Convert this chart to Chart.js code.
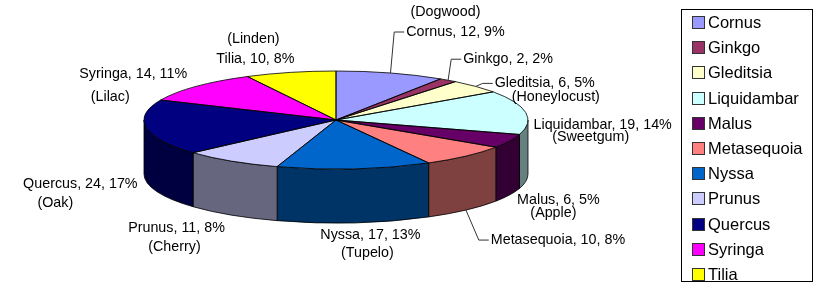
<!DOCTYPE html>
<html>
<head>
<meta charset="utf-8">
<title>Trees by genus</title>
<script src="https://cdn.jsdelivr.net/npm/chart.js@4.4.1/dist/chart.umd.min.js"></script>
<style>
  html, body { margin: 0; padding: 0; background: #fff; }
  #wrap { position: relative; width: 818px; height: 296px; font-family: "Liberation Sans", Arial, sans-serif; }
  #pieChart { position: absolute; left: 0; top: 0; }
  #legend { position: absolute; left: 681px; top: 9px; width: 130px; height: 271px; border: 1px solid #000; }
  .legend-item { display: flex; align-items: center; height: 25.2px; font-size: 16.5px; color: #000; }
  .legend-box { width: 11px; height: 11px; border: 1px solid #333; margin: 0 3px 0 10px; }
</style>
</head>
<body>
<div id="wrap">
  <canvas id="pieChart" width="818" height="296"></canvas>
  <div id="legend"></div>
</div>
<script>
const genera = ["Cornus", "Ginkgo", "Gleditsia", "Liquidambar", "Malus", "Metasequoia", "Nyssa", "Prunus", "Quercus", "Syringa", "Tilia"];
const counts = [12, 2, 6, 19, 6, 10, 17, 11, 24, 14, 10];
const percents = [9, 2, 5, 14, 5, 8, 13, 8, 17, 11, 8];
const commonNames = ["Dogwood", "", "Honeylocust", "Sweetgum", "Apple", "", "Tupelo", "Cherry", "Oak", "Lilac", "Linden"];

const colors = ["#9999FF", "#993366", "#FFFFCC", "#CCFFFF", "#660066", "#FF8080", "#0066CC", "#CCCCFF", "#000080", "#FF00FF", "#FFFF00"];

// where each label sits, relative to the slice's rim point (main line, then the common name line)
const labelLayout = [
  { dx: 65, dy: -41, cdx: -10, cdy: -20, leader: true },
  { dx: 60, dy: -21, cdx: 0, cdy: 0, leader: true },
  { dx: 69, dy: -3, cdx: 11, cdy: 14, leader: true },
  { dx: 77, dy: 13, cdx: -12, cdy: 12 },
  { dx: 49, dy: 5, cdx: -5, cdy: 13 },
  { dx: 92, dy: 30, cdx: 0, cdy: 0, leader: true },
  { dx: 16, dy: 12, cdx: -3, cdy: 18 },
  { dx: -55, dy: 13, cdx: -2, cdy: 19 },
  { dx: -66, dy: 2, cdx: -25, cdy: 19 },
  { dx: -63, dy: -12, cdx: -23, cdy: 23 },
  { dx: -35, dy: -13, cdx: -2, cdy: -20 }
];

const TILT = 49 / 192;  // height/width of the top face
const DEPTH = 54;       // wall height in px

function darken(hex) {
  const n = parseInt(hex.slice(1), 16);
  return `rgb(${(n >> 16) >> 1}, ${((n >> 8) & 255) >> 1}, ${(n & 255) >> 1})`;
}

function pieGeom(chart) {
  const arcs = chart.getDatasetMeta(0).data;
  const { x, y, outerRadius } = arcs[0];
  return { arcs, cx: x, cy: y, rx: outerRadius, ry: outerRadius * TILT };
}

const pie3d = {
  id: "pie3d",
  beforeDatasetsDraw(chart) {
    const ctx = chart.ctx;
    const { arcs, cx, cy, rx, ry } = pieGeom(chart);

    // side walls of the front half
    ctx.save();
    ctx.lineWidth = 0.8;
    ctx.strokeStyle = "#000";
    arcs.forEach((arc, i) => {
      const s = Math.max(arc.startAngle, 0);
      const e = Math.min(arc.endAngle, Math.PI);
      if (e <= s) return;
      ctx.beginPath();
      ctx.ellipse(cx, cy, rx, ry, 0, s, e);
      ctx.lineTo(cx + rx * Math.cos(e), cy + ry * Math.sin(e) + DEPTH);
      ctx.ellipse(cx, cy + DEPTH, rx, ry, 0, e, s, true);
      ctx.closePath();
      ctx.fillStyle = darken(colors[i]);
      ctx.fill();
      ctx.stroke();
    });
    ctx.restore();

    // squash the flat pie into the tilted top face
    ctx.save();
    ctx.translate(cx, cy);
    ctx.scale(1, TILT);
    ctx.translate(-cx, -cy);
  },
  afterDatasetsDraw(chart) {
    const ctx = chart.ctx;
    ctx.restore();
    const { arcs, cx, cy, rx, ry } = pieGeom(chart);

    ctx.save();
    ctx.lineWidth = 0.8;
    ctx.strokeStyle = "#000";
    arcs.forEach(arc => {
      ctx.beginPath();
      ctx.moveTo(cx, cy);
      ctx.ellipse(cx, cy, rx, ry, 0, arc.startAngle, arc.endAngle);
      ctx.closePath();
      ctx.stroke();
    });

    // data labels
    ctx.font = '14.3px "Liberation Sans", Arial, sans-serif';
    ctx.fillStyle = "#000";
    ctx.textAlign = "center";
    ctx.textBaseline = "middle";
    ctx.lineWidth = 1;
    ctx.strokeStyle = "#333";
    arcs.forEach((arc, i) => {
      const mid = (arc.startAngle + arc.endAngle) / 2;
      const front = Math.sin(mid) > 0;
      const ax = cx + rx * Math.cos(mid);
      const ay = cy + ry * Math.sin(mid) + (front ? DEPTH : 0);
      const L = labelLayout[i];
      const x = ax + L.dx;
      const y = ay + L.dy;
      const main = `${genera[i]}, ${counts[i]}, ${percents[i]}%`;
      ctx.fillText(main, x, y);
      if (commonNames[i]) ctx.fillText(`(${commonNames[i]})`, x + L.cdx, y + L.cdy);
      if (L.leader) {
        const left = x - ctx.measureText(main).width / 2;
        ctx.beginPath();
        ctx.moveTo(ax, ay);
        ctx.lineTo(left - 12, y);
        ctx.lineTo(left - 2, y);
        ctx.stroke();
      }
    });
    ctx.restore();
  }
};

new Chart(document.getElementById("pieChart"), {
  type: "pie",
  data: {
    labels: genera,
    datasets: [{
      data: counts,
      backgroundColor: colors,
      borderWidth: 0,
      radius: 192,
      clip: false
    }]
  },
  options: {
    responsive: false,
    animation: false,
    events: [],
    layout: { padding: { left: 0, right: 146, top: 0, bottom: 56 } },
    plugins: { legend: { display: false }, tooltip: { enabled: false } }
  },
  plugins: [pie3d]
});

// legend box on the right
const legendDiv = document.getElementById("legend");
genera.forEach((name, i) => {
  legendDiv.innerHTML += `
    <div class="legend-item">
      <span class="legend-box" style="background:${colors[i]}"></span>${name}
    </div>`;
});
</script>
</body>
</html>
